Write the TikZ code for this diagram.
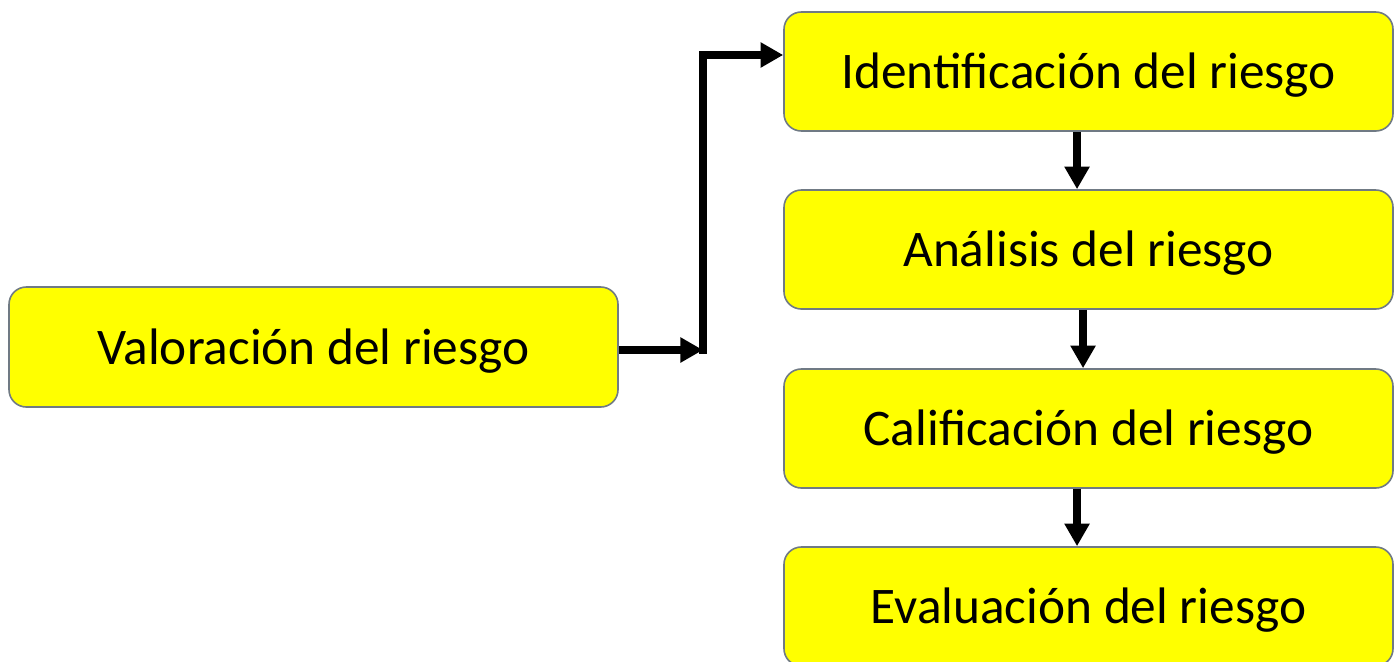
\documentclass[tikz,border=0pt]{standalone}
\usepackage{fontspec}
\setmainfont{Carlito}
\usetikzlibrary{arrows.meta}
\definecolor{boxfill}{RGB}{255,255,0}
\definecolor{boxline}{RGB}{112,122,132}
\newcommand{\steptext}[1]{\raisebox{-3pt}[\height][\depth]{#1}}
\begin{document}
\begin{tikzpicture}[x=0.75pt,y=-0.75pt,
  stepbox/.style={draw=boxline, line width=1.2pt, fill=boxfill, rounded corners=13pt,
    minimum width=609*0.75pt, minimum height=119*0.75pt, inner sep=0pt,
    font=\fontsize{38.5}{44}\selectfont, text=black},
  arr/.style={line width=5.4pt, draw=black, -{Triangle[length=17pt,width=18pt]}}]
\useasboundingbox (0,0) rectangle (1399,661);
\fill[white] (0,0) rectangle (1399,661);
% left box
\node[stepbox, minimum height=120*0.75pt] (val) at (313.5,347) {\steptext{Valoración del riesgo}};
% right column
\node[stepbox] (ide) at (1088.5,71.5) {\steptext{Identificación del riesgo}};
\node[stepbox] (ana) at (1088.5,249.5) {\steptext{Análisis del riesgo}};
\node[stepbox] (cal) at (1088.5,428.5) {\steptext{Calificación del riesgo}};
\node[stepbox] (eva) at (1088.5,606.5) {\steptext{Evaluación del riesgo}};
% elbow connector
\coordinate (elbow) at (703,350);
\coordinate (top) at (703,55);
\draw[arr] (val.east |- elbow) -- (elbow);
\draw[arr, line join=miter] ([yshift=-2.7pt]elbow) -- (top) -- (top -| ide.west);
% vertical steps
\draw[arr] ([xshift=-8.6pt]ide.south) -- ([xshift=-8.6pt]ana.north);
\draw[arr] ([xshift=-4.1pt]ana.south) -- ([xshift=-4.1pt]cal.north);
\draw[arr] ([xshift=-8.6pt]cal.south) -- ([xshift=-8.6pt]eva.north);
\end{tikzpicture}
\end{document}
